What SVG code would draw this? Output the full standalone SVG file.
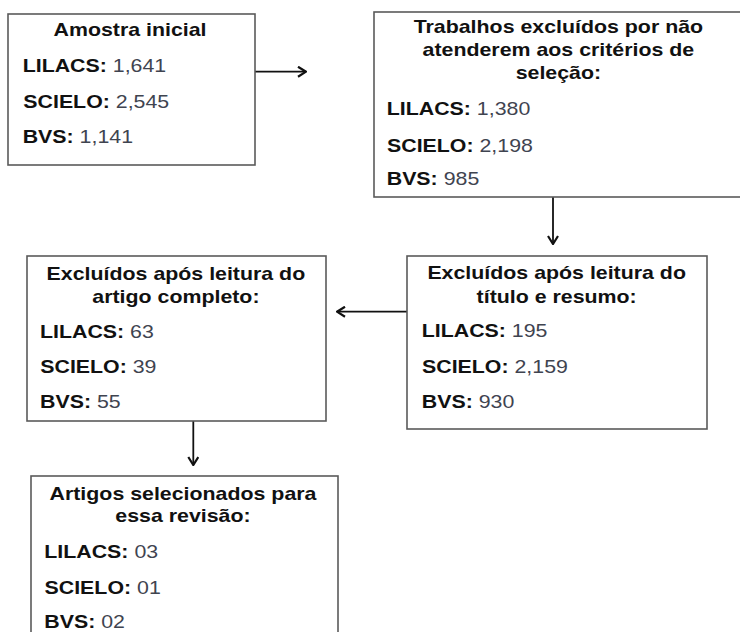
<svg xmlns="http://www.w3.org/2000/svg" width="740" height="632" viewBox="0 0 740 632">
<defs>
<style>
.box{fill:#fff;stroke:#5a5a5a;stroke-width:1.6}
.t{font-family:"Liberation Sans",Arial,sans-serif;font-size:17.5px;font-weight:bold;fill:#111}
.h{text-anchor:middle}
.n{font-weight:normal;fill:#3f4450}
.c{stroke:#111;stroke-width:1.8;fill:none}
</style>
<marker id="ah" viewBox="0 0 10 12" refX="9" refY="6" markerWidth="10" markerHeight="12" markerUnits="userSpaceOnUse" orient="auto">
<path d="M1,1 L9,6 L1,11" fill="none" stroke="#111" stroke-width="2.2"/>
</marker>
</defs>
<rect width="740" height="632" fill="#fff"/>
<g id="connectors">
<line class="c" x1="255" y1="71.7" x2="306" y2="71.7" marker-end="url(#ah)"/>
<line class="c" x1="553" y1="197" x2="553" y2="244" marker-end="url(#ah)"/>
<line class="c" x1="407" y1="311.7" x2="337" y2="311.7" marker-end="url(#ah)"/>
<line class="c" x1="193.3" y1="421" x2="193.3" y2="465" marker-end="url(#ah)"/>
</g>
<g id="amostra-inicial">
<rect class="box" x="8" y="14" width="247" height="151"/>
<g transform="scale(1.22 1)">
<text class="t h" x="106.6" y="36">Amostra inicial</text>
<text class="t" x="18.6" y="71.7">LILACS: <tspan class="n">1,641</tspan></text>
<text class="t" x="19.1" y="108.3">SCIELO: <tspan class="n">2,545</tspan></text>
<text class="t" x="18.6" y="143.3">BVS: <tspan class="n">1,141</tspan></text>
</g>
</g>
<g id="trabalhos-excluidos">
<rect class="box" x="374" y="12" width="370" height="185"/>
<g transform="scale(1.22 1)">
<text class="t h" x="457.7" y="33.3">Trabalhos excluídos por não</text>
<text class="t h" x="457.7" y="56.5">atenderem aos critérios de</text>
<text class="t h" x="457.7" y="79">seleção:</text>
<text class="t" x="317" y="115">LILACS: <tspan class="n">1,380</tspan></text>
<text class="t" x="317.2" y="151.7">SCIELO: <tspan class="n">2,198</tspan></text>
<text class="t" x="317" y="185">BVS: <tspan class="n">985</tspan></text>
</g>
</g>
<g id="excluidos-titulo-resumo">
<rect class="box" x="407" y="256" width="300" height="173"/>
<g transform="scale(1.22 1)">
<text class="t h" x="456.3" y="279.3">Excluídos após leitura do</text>
<text class="t h" x="456.3" y="302.7">título e resumo:</text>
<text class="t" x="345.7" y="337.3">LILACS: <tspan class="n">195</tspan></text>
<text class="t" x="345.9" y="373.3">SCIELO: <tspan class="n">2,159</tspan></text>
<text class="t" x="345.7" y="408.3">BVS: <tspan class="n">930</tspan></text>
</g>
</g>
<g id="excluidos-artigo-completo">
<rect class="box" x="27" y="256" width="299" height="165"/>
<g transform="scale(1.22 1)">
<text class="t h" x="144.2" y="280">Excluídos após leitura do</text>
<text class="t h" x="144.2" y="302.7">artigo completo:</text>
<text class="t" x="32.8" y="338.3">LILACS: <tspan class="n">63</tspan></text>
<text class="t" x="33" y="373.3">SCIELO: <tspan class="n">39</tspan></text>
<text class="t" x="32.8" y="408.3">BVS: <tspan class="n">55</tspan></text>
</g>
</g>
<g id="artigos-selecionados">
<rect class="box" x="31" y="476" width="307" height="170"/>
<g transform="scale(1.22 1)">
<text class="t h" x="150" y="500">Artigos selecionados para</text>
<text class="t h" x="150" y="521.7">essa revisão:</text>
<text class="t" x="36.3" y="558.3">LILACS: <tspan class="n">03</tspan></text>
<text class="t" x="36.5" y="594">SCIELO: <tspan class="n">01</tspan></text>
<text class="t" x="36.3" y="628.3">BVS: <tspan class="n">02</tspan></text>
</g>
</g>
</svg>
